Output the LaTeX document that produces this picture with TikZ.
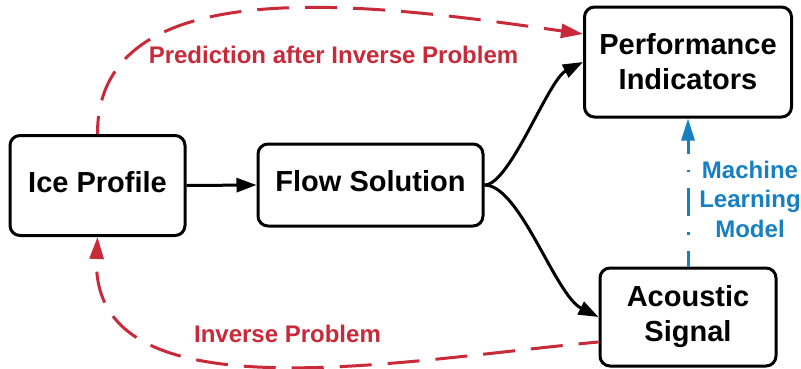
\documentclass[tikz,border=0pt]{standalone}
\usepackage{fontspec}
\setmainfont{Liberation Sans}
\usetikzlibrary{arrows.meta}
\definecolor{predred}{RGB}{201,42,58}
\definecolor{mlblue}{RGB}{22,128,194}
\begin{document}
\begin{tikzpicture}[x=1pt,y=-1pt,
  box/.style={draw=black, line width=3pt, rounded corners=10pt, fill=white,
    inner sep=0pt, align=center, font=\fontsize{29}{35}\selectfont\bfseries},
  conn/.style={line width=3pt, -{Triangle[length=20pt,width=14pt]}},
  redconn/.style={draw=predred, line width=3pt, dash pattern=on 32pt off 16pt,
    -{Triangle[length=22pt,width=14pt]}},
  blueconn/.style={draw=mlblue, line width=3pt,
    dash pattern=on 28pt off 16pt on 2.5pt off 16pt, dash phase=12pt,
    -{Triangle[length=22pt,width=13pt]}},
  redlabel/.style={text=predred, inner sep=0pt, font=\fontsize{24}{29.5}\selectfont\bfseries},
  bluelabel/.style={text=mlblue, inner sep=0pt, align=center,
    font=\fontsize{24}{29.5}\selectfont\bfseries}]
  \useasboundingbox (0,0) rectangle (801,368);
  \fill[white] (0,0) rectangle (801,368);

  % boxes
  \node[box, text depth=8pt, minimum width=175pt, minimum height=100pt] (ice) at (97.5,185.5) {Ice Profile};
  \node[box, text depth=8pt, minimum width=225pt, minimum height=82pt] (flow) at (370.5,185) {Flow Solution};
  \node[box, minimum width=207pt, minimum height=110pt] (perf) at (688,62) {Performance\\Indicators};
  \node[box, minimum width=176pt, minimum height=98pt] (acou) at (688,317) {Acoustic\\Signal};

  % solid flow
  \draw[conn] (ice.east) -- (flow.west);
  \draw[conn] (flow.east) .. controls (510,185) and (548,80) .. (perf.west);
  \draw[conn] (flow.east) .. controls (520,185) and (555,295) .. (acou.west);

  % dashed feedback paths
  \draw[redconn, dash phase=14pt] (ice.north) .. controls (97,-35) and (380,5) .. ([yshift=28pt]perf.west);
  \draw[redconn, dash phase=12pt] ([yshift=-25pt]acou.west) .. controls (400,360) and (90,420) .. (ice.south);
  \draw[blueconn] (acou.north) -- (perf.south);

  % labels
  \node[redlabel, anchor=base] (pred) at (333.5,63) {Prediction after Inverse Problem};
  \node[redlabel, anchor=base] (inv) at (287.5,342) {Inverse Problem};
  \node[bluelabel] (ml) at (750,199) {Machine\\Learning\\Model};
\end{tikzpicture}
\end{document}
